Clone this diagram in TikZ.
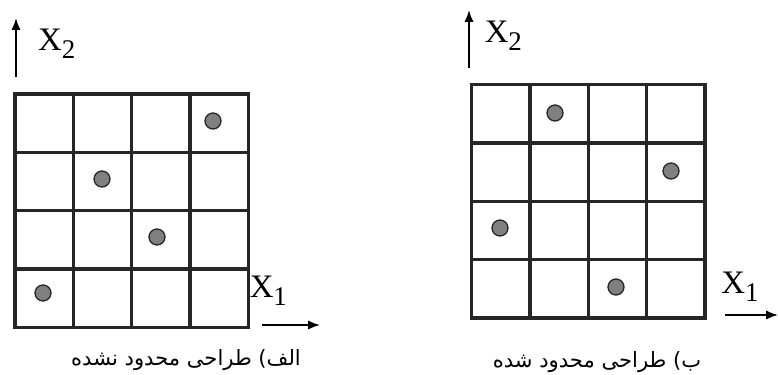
\documentclass[tikz,border=0pt]{standalone}
\usepackage{fontspec}
\setmainfont{Liberation Serif}
\newfontfamily\persianfont[Script=Arabic]{DejaVu Sans}
\TeXXeTstate=1
\usetikzlibrary{arrows.meta}

\newcommand{\axisName}[1]{X\raisebox{-0.5ex}{\fontsize{23}{25}\selectfont #1}}

\begin{document}
\begin{tikzpicture}[designGrid/.style={line width=2.8pt, black!85},
    designPoint/.style={draw=black!85, fill=black!50, circle, line width=1.1pt, inner sep=0pt, minimum size=4.8mm},
    designAxis/.style={-{Latex[length=3.6mm, width=2.8mm]}, line width=1.6pt},
    designAxisLabel/.style={font=\fontsize{28}{30}\selectfont, inner sep=0pt},
    designCaption/.style={font=\persianfont\fontsize{18}{20}\selectfont, inner sep=0pt}]
    \useasboundingbox (0, 0) rectangle (23.34, 11.22);

    % Unconstrained design
    \draw[designGrid, step=1.75, xshift=0.45cm, yshift=1.4cm] (0, 0) grid (7, 7);
    \draw[designGrid] (0.45, 1.4) rectangle (7.45, 8.4);
    \node[designPoint] (leftP1) at (6.39, 7.59) {};
    \node[designPoint] (leftP2) at (3.06, 5.85) {};
    \node[designPoint] (leftP3) at (4.71, 4.11) {};
    \node[designPoint] (leftP4) at (1.29, 2.43) {};
    \coordinate (leftYs) at (0.48, 8.91);
    \coordinate (leftYe) at (0.48, 10.68);
    \coordinate (leftXs) at (7.86, 1.47);
    \coordinate (leftXe) at (9.6, 1.47);
    \draw[designAxis] (leftYs) -- (leftYe);
    \draw[designAxis] (leftXs) -- (leftXe);
    \node[designAxisLabel] (leftX2) at (1.7, 9.9) {\axisName{2}};
    \node[designAxisLabel] (leftX1) at (8.05, 2.49) {\axisName{1}};
    \node[designCaption] (leftCap) at (5.58, 0.42) {\beginR الف) طراحی محدود نشده\endR};

    % Constrained design
    \draw[designGrid, step=1.75, xshift=14.15cm, yshift=1.68cm] (0, 0) grid (7, 7);
    \draw[designGrid] (14.15, 1.68) rectangle (21.15, 8.68);
    \node[designPoint] (rightP1) at (16.65, 7.83) {};
    \node[designPoint] (rightP2) at (20.13, 6.09) {};
    \node[designPoint] (rightP3) at (15.0, 4.38) {};
    \node[designPoint] (rightP4) at (18.48, 2.61) {};
    \coordinate (rightYs) at (14.07, 9.18);
    \coordinate (rightYe) at (14.07, 10.92);
    \coordinate (rightXs) at (21.75, 1.77);
    \coordinate (rightXe) at (23.34, 1.77);
    \draw[designAxis] (rightYs) -- (rightYe);
    \draw[designAxis] (rightXs) -- (rightXe);
    \node[designAxisLabel] (rightX2) at (15.1, 10.14) {\axisName{2}};
    \node[designAxisLabel] (rightX1) at (22.2, 2.61) {\axisName{1}};
    \node[designCaption] (rightCap) at (17.91, 0.36) {\beginR ب) طراحی محدود شده\endR};
\end{tikzpicture}
\end{document}
